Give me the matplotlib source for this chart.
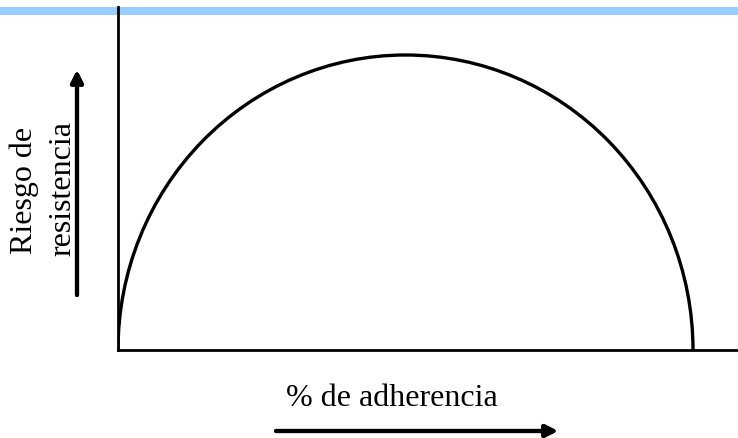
import matplotlib
matplotlib.use("Agg")
import matplotlib.pyplot as plt
from matplotlib.patches import Arc, Rectangle

# Data (conceptual curve: risk of resistance vs % adherence)
adherence_range = [0, 100]   # curve spans 0..100 % adherence
peak_risk = 1.0              # maximum risk at mid adherence
x_label = "% de adherencia"
y_label_lines = ["Riesgo de", "resistencia"]

W, H = 738, 438
fig = plt.figure(figsize=(W / 100, H / 100), dpi=100)
fig.patch.set_facecolor("white")

# top light-blue band
fig.add_artist(Rectangle((0, 1 - 15 / H), 1, 8 / H, transform=fig.transFigure,
                         facecolor="#99CCFF", edgecolor="none", zorder=-1))

left, right, bottom, top = 118, 738, 350, 7
ax = fig.add_axes([left / W, 1 - bottom / H, (right - left) / W, (bottom - top) / H])
ax.patch.set_alpha(0)
span = adherence_range[1] - adherence_range[0]
ax.set_xlim(adherence_range[0], adherence_range[0] + span * (right - left) / 575)
ax.set_ylim(0, peak_risk * (bottom - top) / 295)
for s in ["top", "right"]:
    ax.spines[s].set_visible(False)
for s in ["left", "bottom"]:
    ax.spines[s].set_linewidth(2)
    ax.spines[s].set_color("black")
ax.set_xticks([])
ax.set_yticks([])

cx = (adherence_range[0] + adherence_range[1]) / 2
ax.add_patch(Arc((cx, 0), span, 2 * peak_risk, theta1=0, theta2=180,
                 lw=2.4, color="black"))

font = dict(family="Liberation Serif", fontsize=23, color="black")
fig.text(24 / W, 1 - 190 / H, y_label_lines[0], rotation=90, ha="center", va="center", **font)
fig.text(63 / W, 1 - 188 / H, y_label_lines[1], rotation=90, ha="center", va="center", **font)
fig.text(392 / W, 1 - 398 / H, x_label, ha="center", va="center", **font)

arrow = dict(arrowstyle="-|>", lw=3, color="black", mutation_scale=18, shrinkA=0, shrinkB=0)
fig.add_artist(plt.annotate("", xy=(77 / W, 1 - 70 / H), xytext=(77 / W, 1 - 295 / H),
                            xycoords=fig.transFigure, textcoords=fig.transFigure,
                            arrowprops=arrow))
fig.add_artist(plt.annotate("", xy=(558 / W, 1 - 431 / H), xytext=(276 / W, 1 - 431 / H),
                            xycoords=fig.transFigure, textcoords=fig.transFigure,
                            arrowprops=arrow))

fig.savefig("out.png", dpi=100)
